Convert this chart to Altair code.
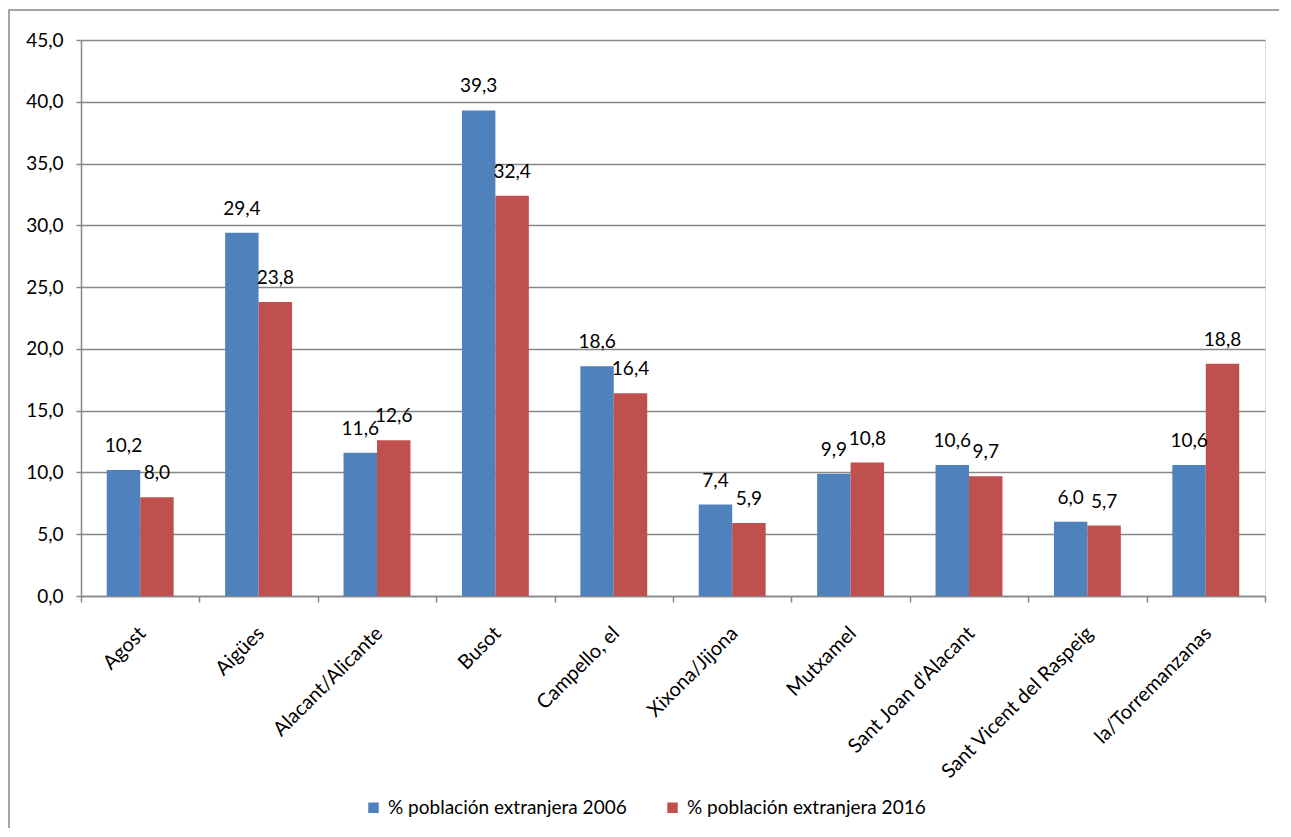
import altair as alt
import pandas as pd

categories = ["Agost", "Aigües", "Alacant/Alicante", "Busot", "Campello, el",
              "Xixona/Jijona", "Mutxamel", "Sant Joan d'Alacant",
              "Sant Vicent del Raspeig", "la/Torremanzanas"]
v2006 = [10.2, 29.4, 11.6, 39.3, 18.6, 7.4, 9.9, 10.6, 6.0, 10.6]
v2016 = [8.0, 23.8, 12.6, 32.4, 16.4, 5.9, 10.8, 9.7, 5.7, 18.8]
series = ["% población extranjera 2006", "% población extranjera 2016"]
colors = ["#4F81BD", "#C0504D"]
y_ticks = [0, 5, 10, 15, 20, 25, 30, 35, 40, 45]

rows = []
for c, a, b in zip(categories, v2006, v2016):
    rows.append({"cat": c, "serie": series[0], "v": a, "lbl": f"{a:.1f}".replace(".", ",")})
    rows.append({"cat": c, "serie": series[1], "v": b, "lbl": f"{b:.1f}".replace(".", ",")})
df = pd.DataFrame(rows)

FONT = "Lato"
FS = 19
GRID = "#878787"

x_enc = alt.X("cat:N", sort=categories,
              scale=alt.Scale(paddingInner=0, paddingOuter=0),
              axis=alt.Axis(title=None, labelAngle=-45, labelAlign="right",
                            labelBaseline="middle", labelFontSize=20, labelFont=FONT,
                            labelColor="#000000", tickBand="extent", tickSize=6,
                            tickColor=GRID, tickWidth=1.5, domainColor=GRID,
                            domainWidth=1.5, labelPadding=28, labelLimit=0,
                            labelOffset=2, grid=False))
xoff_enc = alt.XOffset("serie:N", sort=series,
                       scale=alt.Scale(paddingOuter=0.77, paddingInner=0))
y_enc = alt.Y("v:Q", scale=alt.Scale(domain=[0, 45], nice=False),
              axis=alt.Axis(title=None, values=y_ticks,
                            labelExpr="replace(format(datum.value, '.1f'), '.', ',')",
                            labelFontSize=FS, labelFont=FONT, labelColor="#000000",
                            tickSize=5, tickColor=GRID, tickWidth=1.5,
                            domainColor=GRID, domainWidth=1.5, labelPadding=13,
                            grid=True, gridColor=GRID, gridWidth=1.5))

base = alt.Chart(df)

bars = base.mark_bar().encode(
    x=x_enc, xOffset=xoff_enc, y=y_enc,
    color=alt.Color("serie:N", sort=series,
                    scale=alt.Scale(domain=series, range=colors),
                    legend=alt.Legend(title=None, orient="none", direction="horizontal",
                                      legendX=283, legendY=758, symbolType="square",
                                      symbolSize=110, symbolStrokeWidth=0,
                                      labelFontSize=FS, labelFont=FONT, labelLimit=0,
                                      labelColor="#000000", columnPadding=36,
                                      labelOffset=5)),
)

labels = base.mark_text(baseline="alphabetic", dy=-18, fontSize=FS, font=FONT,
                        color="#000000").encode(
    x=alt.X("cat:N", sort=categories), xOffset=alt.XOffset("serie:N", sort=series),
    y=alt.Y("v:Q"), text="lbl:N",
)

border = alt.Chart(alt.Data(values=[{"a": 1}])).mark_rect(
    fill="white", fillOpacity=0, stroke="#888888", strokeWidth=1.5
).encode(x=alt.value(-72), x2=alt.value(1400), y=alt.value(-30), y2=alt.value(1000))

chart = alt.layer(border, bars, labels).properties(
    width=1184, height=556,
    autosize=alt.AutoSizeParams(type="none"),
    padding={"left": 73, "top": 32, "right": 14, "bottom": 232},
).configure_view(stroke=None).configure(background="white")

chart.save("out.html", embed_options={"renderer": "svg", "actions": False})
